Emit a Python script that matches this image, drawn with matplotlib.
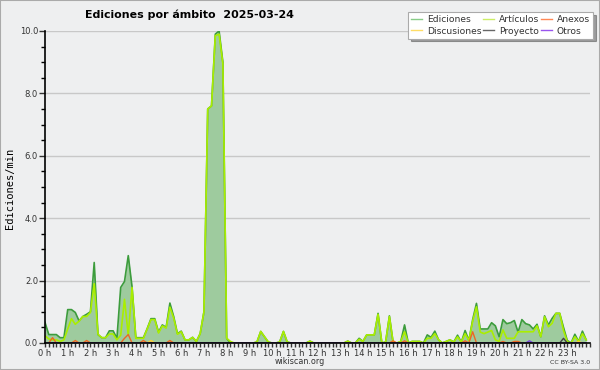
import numpy as np
import matplotlib
matplotlib.use("Agg")
import matplotlib.pyplot as plt
from matplotlib.lines import Line2D
from matplotlib.patches import Rectangle
from matplotlib.ticker import MultipleLocator, FormatStrFormatter

# ediciones por minuto, un valor cada 10 minutos (6 por hora)
ediciones = [
    0.66, 0.27, 0.27, 0.27, 0.17, 0.17,   # 0 h
    1.07, 1.07, 0.98, 0.71, 0.85, 0.92,   # 1 h
    1.00, 2.58, 0.27, 0.17, 0.17, 0.39,   # 2 h
    0.39, 0.15, 1.78, 1.97, 2.80, 1.80,   # 3 h
    0.17, 0.17, 0.17, 0.46, 0.78, 0.78,   # 4 h
    0.35, 0.58, 0.50, 1.28, 0.85, 0.30,   # 5 h
    0.38, 0.10, 0.10, 0.18, 0.05, 0.30,   # 6 h
    1.00, 7.50, 7.60, 9.90, 10.0, 9.00,   # 7 h
    0.15, 0.00, 0.00, 0.00, 0.00, 0.00,   # 8 h
    0.00, 0.00, 0.03, 0.37, 0.20, 0.03,   # 9 h
    0.00, 0.00, 0.03, 0.37, 0.03, 0.00,   # 10 h
    0.00, 0.00, 0.00, 0.00, 0.06, 0.00,   # 11 h
    0.00, 0.00, 0.00, 0.00, 0.00, 0.00,   # 12 h
    0.00, 0.00, 0.06, 0.00, 0.00, 0.15,   # 13 h
    0.05, 0.26, 0.26, 0.26, 0.95, 0.00,   # 14 h
    0.03, 0.87, 0.00, 0.00, 0.05, 0.58,   # 15 h
    0.00, 0.05, 0.05, 0.05, 0.00, 0.26,   # 16 h
    0.18, 0.38, 0.10, 0.00, 0.05, 0.10,   # 17 h
    0.03, 0.25, 0.03, 0.40, 0.08, 0.75,   # 18 h
    1.27, 0.45, 0.45, 0.45, 0.65, 0.55,   # 19 h
    0.20, 0.75, 0.62, 0.65, 0.72, 0.35,   # 20 h
    0.75, 0.62, 0.58, 0.45, 0.60, 0.20,   # 21 h
    0.87, 0.58, 0.79, 0.95, 0.95, 0.50,   # 22 h
    0.08, 0.00, 0.28, 0.05, 0.38, 0.10,   # 23 h
]
articulos = [
    0.23, 0.13, 0.10, 0.10, 0.05, 0.10,
    0.45, 0.78, 0.60, 0.70, 0.85, 0.85,
    0.98, 1.90, 0.28, 0.17, 0.17, 0.29,
    0.29, 0.10, 0.25, 1.40, 0.25, 1.78,
    0.15, 0.15, 0.15, 0.45, 0.75, 0.75,
    0.32, 0.55, 0.48, 1.15, 0.80, 0.28,
    0.36, 0.10, 0.10, 0.18, 0.05, 0.30,
    1.00, 7.50, 7.60, 9.85, 9.90, 8.95,
    0.15, 0.05, 0.00, 0.00, 0.00, 0.00,
    0.00, 0.00, 0.03, 0.37, 0.20, 0.03,
    0.00, 0.00, 0.03, 0.37, 0.03, 0.00,
    0.00, 0.00, 0.00, 0.00, 0.06, 0.00,
    0.00, 0.00, 0.00, 0.00, 0.00, 0.00,
    0.00, 0.00, 0.06, 0.00, 0.00, 0.12,
    0.05, 0.26, 0.26, 0.26, 0.92, 0.00,
    0.03, 0.85, 0.00, 0.00, 0.05, 0.36,
    0.00, 0.05, 0.05, 0.05, 0.00, 0.15,
    0.15, 0.30, 0.10, 0.00, 0.05, 0.10,
    0.03, 0.20, 0.03, 0.30, 0.08, 0.70,
    1.16, 0.35, 0.30, 0.35, 0.40, 0.10,
    0.05, 0.42, 0.15, 0.15, 0.15, 0.36,
    0.36, 0.36, 0.36, 0.36, 0.55, 0.20,
    0.84, 0.52, 0.63, 0.95, 0.95, 0.40,
    0.04, 0.00, 0.20, 0.05, 0.30, 0.10,
]
anexos = [
    0, 0, 0.17, 0, 0, 0, 0, 0, 0.08, 0, 0, 0.08,          # 0-1 h
    0, 0, 0, 0, 0, 0, 0, 0, 0, 0.15, 0.27, 0,             # 2-3 h
    0, 0, 0.08, 0, 0, 0, 0, 0, 0, 0.08, 0, 0,             # 4-5 h
    0, 0, 0, 0, 0, 0, 0, 0, 0, 0, 0, 0,                   # 6-7 h
    0, 0, 0, 0, 0, 0, 0, 0, 0, 0, 0, 0,                   # 8-9 h
    0, 0, 0, 0, 0, 0, 0, 0, 0, 0, 0, 0,                   # 10-11 h
    0, 0, 0, 0, 0, 0, 0, 0, 0, 0, 0, 0,                   # 12-13 h
    0, 0, 0, 0, 0, 0, 0, 0, 0.07, 0, 0, 0.07,             # 14-15 h
    0, 0, 0, 0, 0, 0, 0, 0, 0, 0, 0, 0,                   # 16-17 h
    0, 0, 0, 0.07, 0, 0.36, 0, 0, 0, 0, 0, 0,             # 18-19 h
    0, 0.05, 0, 0, 0.05, 0.05, 0, 0, 0, 0, 0, 0,          # 20-21 h
    0, 0, 0, 0, 0, 0, 0, 0, 0, 0, 0, 0,                   # 22-23 h
]
discusiones = [0.0] * 144
discusiones[28] = 0.08
discusiones[141] = 0.05
proyecto = [0.0] * 144
proyecto[137] = 0.15
otros = [0.0] * 144
otros[128] = 0.07

horas = [f"{h} h" for h in range(24)]
x = np.arange(144) / 6.0

bg = "#eeeff0"
fig = plt.figure(figsize=(6, 3.7), dpi=100, facecolor=bg)
ax = fig.add_axes([45 / 600, 27 / 370, 545 / 600, 312 / 370])
ax.set_facecolor(bg)

ax.fill_between(x, ediciones, 0, color="#9ecb9e", lw=0, zorder=1)
ax.plot(x, ediciones, color="#3c9c3c", lw=1.2, zorder=2)
ax.plot(x, articulos, color="#aaee00", lw=1.2, zorder=2.1)
ax.plot(x, anexos, color="#ee6622", lw=1.0, zorder=2.2)
ax.plot(x, discusiones, color="#ffcc33", lw=1.0, zorder=2.2)
ax.plot(x, proyecto, color="#444444", lw=1.0, zorder=2.2)
ax.plot(x, otros, color="#7744dd", lw=1.0, zorder=2.2)

ax.set_xlim(0, 24)
ax.set_ylim(0, 10)
ax.yaxis.set_major_locator(MultipleLocator(2))
ax.yaxis.set_minor_locator(MultipleLocator(0.5))
ax.yaxis.set_major_formatter(FormatStrFormatter("%.1f"))
ax.set_xticks(range(24))
ax.set_xticklabels(horas)
ax.xaxis.set_minor_locator(MultipleLocator(1 / 6))
ax.grid(axis="y", which="major", color="#c8c8c8", lw=1)
ax.set_axisbelow(True)
for s in ["top", "right"]:
    ax.spines[s].set_visible(False)
for s in ["left", "bottom"]:
    ax.spines[s].set_color("black")
    ax.spines[s].set_linewidth(1.2)
    ax.spines[s].set_zorder(3)
ax.tick_params(axis="y", which="major", length=4, width=1, labelsize=6, pad=1, colors="#333333")
ax.tick_params(axis="y", which="minor", length=3, width=1)
ax.tick_params(axis="x", which="both", length=3, width=1, labelsize=6, pad=1, colors="#333333")

fig.text(85 / 600, 1 - 15 / 370, "Ediciones por ámbito  2025-03-24",
         fontsize=7.9, fontweight="bold", ha="left", va="center")
fig.text(10 / 600, 1 - 188 / 370, "Ediciones/min", family="DejaVu Sans Mono",
         fontsize=7.5, rotation=90, ha="center", va="center")
fig.text(300 / 600, 1 - 361 / 370, "wikiscan.org", fontsize=5.8,
         ha="center", va="center", color="#333333")
fig.text(590 / 600, 1 - 362 / 370, "CC BY-SA 3.0", fontsize=4.5,
         ha="right", va="center", color="#333333")

handles = [
    Line2D([], [], color="#88cc88", lw=1),
    Line2D([], [], color="#ffdd66", lw=1),
    Line2D([], [], color="#ccee66", lw=1),
    Line2D([], [], color="#666666", lw=1),
    Line2D([], [], color="#ff8855", lw=1),
    Line2D([], [], color="#9955ee", lw=1),
]
labels = ["Ediciones", "Discusiones", "Artículos", "Proyecto", "Anexos", "Otros"]
leg = fig.legend(handles, labels, ncol=3, loc="upper right",
                 bbox_to_anchor=(593 / 600, 1 - 12 / 370),
                 fontsize=6.6, frameon=True, fancybox=False, shadow=True,
                 handlelength=1.2, handletextpad=0.5, columnspacing=0.2,
                 labelspacing=0.25, borderpad=0.35, borderaxespad=0)
leg.get_frame().set_edgecolor("#aaaaaa")
leg.get_frame().set_linewidth(0.8)
for t in leg.get_texts():
    t.set_color("#333333")

fig.patches.append(Rectangle((0, 0), 1, 1, transform=fig.transFigure,
                             fill=False, edgecolor="#aaaaaa", lw=1.5))

fig.savefig("out.png", dpi=100, facecolor=bg)
